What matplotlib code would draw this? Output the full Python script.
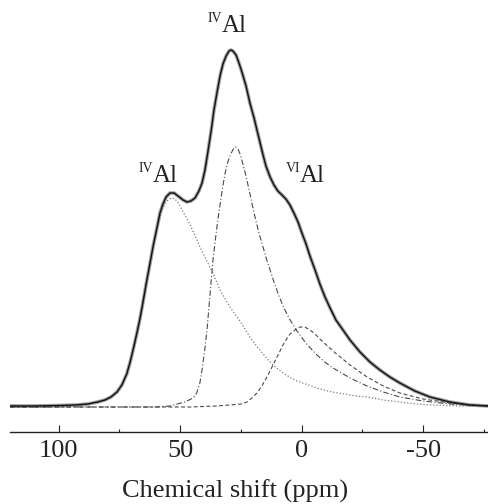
import matplotlib
matplotlib.use("Agg")
import matplotlib.pyplot as plt
from matplotlib.ticker import FixedLocator

plt.rcParams['font.family'] = ['Liberation Serif', 'DejaVu Serif']

# Total spectrum (ppm, intensity a.u.)
total_ppm = [120, 110, 99.5, 93.0, 88.0, 84.0, 81.0, 78.5, 76.0, 74.0, 72.0, 70.7, 69.4,
             67.8, 66.5, 65.3, 63.7, 62.4, 61.2, 59.5, 58.3, 57.1, 55.8, 54.2, 52.5, 50.9,
             48.8, 47.2, 45.6, 43.9, 42.3, 41.0, 39.8, 38.6, 37.2, 36.1, 34.8, 33.6, 32.4,
             31.1, 29.9, 29.1, 28.3, 27.0, 25.8, 24.6, 22.9, 21.3, 19.6, 18.4, 17.2, 15.9,
             14.7, 13.0, 11.4, 9.8, 8.1, 6.5, 4.8, 3.2, 1.5, -0.1, -1.8, -3.4, -5.5, -7.5,
             -9.6, -11.7, -14.1, -17.0, -19.9, -24.0, -28.1, -32.2, -36.3, -40.4, -46.6,
             -52.8, -61.0, -69.2, -77.1]
total_int = [1, 1, 1.5, 2, 3, 5, 7, 10, 15, 22, 33, 44, 57,
             74, 89, 105, 127, 144, 160, 180, 194, 203, 210, 214, 214, 211,
             207, 205, 206, 209, 216, 224, 237, 255, 277, 297, 315, 331, 343,
             351, 356, 357, 356, 352, 344, 335, 321, 304, 289, 277, 265, 252,
             241, 230, 222, 216, 212, 208, 202, 194, 185, 174, 163, 151, 137, 123,
             110, 99, 87, 77, 67, 55, 45, 37, 30, 24, 16,
             10, 5, 2, 1]

# Component 1 (dotted, IV Al near 54 ppm)
c1_ppm = [120, 110, 99.5, 93.0, 88.0, 84.0, 81.0, 78.5, 76.0, 74.0, 72.0, 70.7, 69.4,
          67.8, 66.5, 65.3, 63.7, 62.4, 61.2, 59.5, 58.3, 57.1, 55.8, 54.5, 53.4, 52.2,
          51.0, 49.8, 48.8, 47.4, 46.0, 44.6, 43.1, 41.5, 39.8, 38.2, 36.5, 35.0, 33.6,
          31.5, 29.5, 27.5, 25.4, 23.3, 21.3, 19.2, 17.2, 14.5, 11.8, 9.3, 6.9, 4.4, 1.9,
          -2.8, -7.5, -12.6, -17.8, -22.3, -26.9, -33.6, -40.4, -47.2, -54.0, -65.0, -77.1]
c1_int = [1, 1, 1.5, 2, 3, 5, 7, 10, 15, 22, 33, 44, 57,
          74, 89, 105, 127, 144, 159, 178, 190, 199, 205, 208, 209, 208,
          205, 200, 195, 189, 183, 175, 167, 158, 150, 142, 134, 125, 117,
          108, 100, 93, 86, 78, 70, 63, 57, 49, 42, 37, 33, 29, 26,
          22, 18, 15, 13, 11, 10, 7, 5, 3, 2, 1, 1]

# Component 2 (dash-dot, IV Al near 27 ppm)
c2_ppm = [120, 70, 60, 54.2, 51.3, 48.0, 44.7, 43.2, 41.9, 41.0, 40.0, 39.0, 37.8, 36.5,
          35.0, 33.6, 32.5, 31.5, 30.4, 29.2, 28.1, 27.2, 26.2, 25.2, 24.2, 23.0, 21.9,
          20.5, 19.2, 17.7, 15.9, 14.5, 13.0, 11.4, 9.8, 7.7, 5.0, 1.9, -2.0, -6.3, -9.5,
          -12.9, -19.9, -26.9, -33.6, -40.4, -50.0, -61.0, -77.1]
c2_int = [0, 0, 0, 1, 3, 5, 9, 14, 24, 37, 55, 76, 110, 147,
          178, 202, 220, 234, 245, 253, 258, 260, 258, 252, 243, 232, 220,
          204, 190, 175, 160, 148, 137, 125, 114, 101, 88, 76, 63, 52, 45,
          39, 29, 21, 15, 10, 6, 3, 1]

# Component 3 (dashed, VI Al near 0 ppm)
c3_ppm = [120, 60, 46.0, 35.0, 29.5, 25.0, 22.5, 20.5, 18.4, 16.4, 14.3, 12.6, 11.0, 9.3,
          7.7, 6.2, 4.8, 2.8, 0.7, -1.3, -3.4, -5.5, -7.5, -10.2, -12.9, -16.4, -19.9,
          -23.4, -26.9, -33.6, -40.4, -50.0, -61.0, -69.0, -77.1]
c3_int = [0, 0, 0, 1, 2, 3, 5, 9, 14, 21, 30, 38, 46, 54,
          62, 68, 73, 77, 80, 80, 77, 73, 68, 62, 56, 49, 42,
          36, 30, 21, 14, 8, 4, 2, 1]

labels = [("IV", "Al"), ("IV", "Al"), ("VI", "Al")]
label_ppm = [61.2, 32.8, 0.7]
label_int = [225, 375, 225]

W, H = 489, 504
fig = plt.figure(figsize=(W / 100, H / 100), dpi=100)
x0 = 10.1 / W
y0 = (H - 431.7) / H
ax = fig.add_axes([x0, y0, 1.0 - x0, 1.0 - y0])

ax.plot(total_ppm, total_int, color='#a0a0a0', lw=2.6, solid_joinstyle='round')
ax.plot(c1_ppm, c1_int, color='#7a7a7a', lw=0.9, linestyle=(0, (1, 1.6)))
ax.plot(c2_ppm, c2_int, color='#4a4a4a', lw=0.8, linestyle=(0, (5, 2, 1, 2)))
ax.plot(c3_ppm, c3_int, color='#4a4a4a', lw=0.8, linestyle=(0, (3.5, 2.2)))
ax.plot(total_ppm, total_int, color='#111111', lw=1.0, solid_joinstyle='round')

ax.set_xlim(120, -77.1)
ax.set_ylim(-24.7, 407)

for spine in ['top', 'left', 'right']:
    ax.spines[spine].set_visible(False)
ax.spines['bottom'].set_linewidth(1.0)
ax.spines['bottom'].set_color('#222222')
ax.set_yticks([])
ax.xaxis.set_major_locator(FixedLocator([100, 50, 0, -50]))
ax.xaxis.set_minor_locator(FixedLocator([75, 25, -25, -75]))
ax.set_xticklabels(['100', '50', '0', '-50'])
ax.tick_params(axis='x', which='major', direction='in', length=5, width=0.8,
               labelsize=19, pad=6, colors='#222222')
ax.tick_params(axis='x', which='minor', direction='in', length=2.2, width=0.8,
               colors='#222222')

ax.set_xlabel('Chemical shift (ppm)', fontsize=19, color='#222222')
ax.xaxis.set_label_coords((235.5 - 10.1) / (W - 10.1), -0.111)

for (sup, main), px, py in zip(labels, label_ppm, label_int):
    ax.text(px, py, main, fontsize=18, ha='left', va='baseline', color='#222222')
    ax.annotate(sup, xy=(px, py), xytext=(0, 7.2), textcoords='offset points',
                fontsize=10, ha='right', va='baseline', color='#222222')

fig.savefig('out.png', dpi=100)
